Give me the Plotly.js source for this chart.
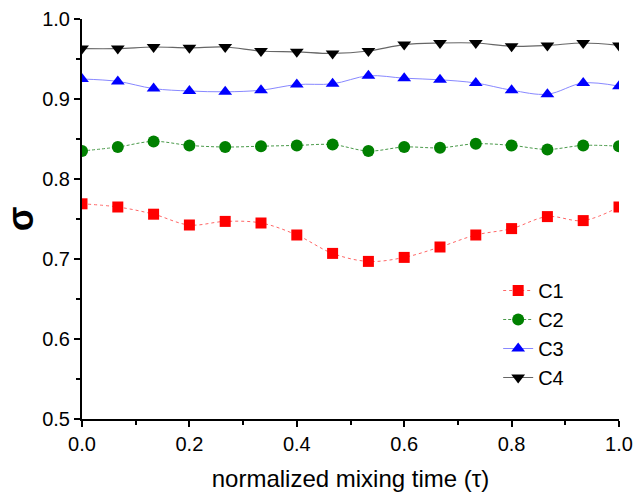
<!DOCTYPE html>
<html><head><meta charset="utf-8">
<script src="https://cdn.plot.ly/plotly-3.0.1.min.js"></script>
<style>html,body{margin:0;padding:0;background:#fff}#chart{width:633px;height:493px}</style>
</head><body><div id="chart"></div>
<script>
const tau = [0, 1/15, 2/15, 3/15, 4/15, 5/15, 6/15, 7/15, 8/15, 9/15, 10/15, 11/15, 12/15, 13/15, 14/15, 1];
const c1 = [0.769, 0.765, 0.756, 0.7425, 0.747, 0.745, 0.730, 0.707, 0.697, 0.702, 0.715, 0.730, 0.738, 0.753, 0.748, 0.765];
const c2 = [0.835, 0.840, 0.847, 0.842, 0.840, 0.841, 0.842, 0.843, 0.835, 0.840, 0.839, 0.844, 0.842, 0.837, 0.842, 0.841];
const c3 = [0.925, 0.922, 0.913, 0.910, 0.909, 0.911, 0.918, 0.919, 0.929, 0.926, 0.924, 0.920, 0.911, 0.906, 0.920, 0.916];
const c4 = [0.963, 0.963, 0.965, 0.964, 0.965, 0.960, 0.959, 0.957, 0.960, 0.968, 0.970, 0.970, 0.966, 0.967, 0.970, 0.967];
const names = ["C1", "C2", "C3", "C4"];

const font = "Liberation Sans, Arial, sans-serif";
const traces = [
  {x: tau, y: c1, name: names[0], mode: "lines+markers", line: {shape: "spline", color: "#ff6666", width: 1, dash: "dot"}, marker: {symbol: "square", size: 11, color: "#ff0000"}},
  {x: tau, y: c2, name: names[1], mode: "lines+markers", line: {shape: "spline", color: "#4a9a4a", width: 1, dash: "3px,2px"}, marker: {symbol: "circle", size: 12, color: "#008000"}},
  {x: tau, y: c3, name: names[2], mode: "lines+markers", line: {shape: "spline", color: "#8888ff", width: 1}, marker: {symbol: "triangle-up", size: 12, color: "#0000ff"}},
  {x: tau, y: c4, name: names[3], mode: "lines+markers", line: {shape: "spline", color: "#666666", width: 1.2}, marker: {symbol: "triangle-down", size: 12, color: "#000000"}}
];

const layout = {
  width: 633, height: 493,
  margin: {l: 82, r: 14, t: 19, b: 74},
  paper_bgcolor: "#fff", plot_bgcolor: "#fff",
  font: {family: font, size: 20, color: "#000"},
  xaxis: {
    range: [0, 1.0], tickvals: [0, 0.2, 0.4, 0.6, 0.8, 1.0], ticktext: ["0.0", "0.2", "0.4", "0.6", "0.8", "1.0"],
    showgrid: false, zeroline: false, showline: true, linecolor: "#000", linewidth: 2,
    ticks: "outside", ticklen: 6, tickwidth: 2, tickcolor: "#000",
    minor: {dtick: 0.1, tick0: 0, ticks: "outside", ticklen: 4, tickwidth: 2, tickcolor: "#000", showgrid: false},
    tickfont: {size: 20, family: font},
    title: {text: "normalized mixing time (τ)", font: {size: 24, family: font}, standoff: 16}
  },
  yaxis: {
    range: [0.5, 1.0], tickvals: [0.5, 0.6, 0.7, 0.8, 0.9, 1.0], ticktext: ["0.5", "0.6", "0.7", "0.8", "0.9", "1.0"],
    showgrid: false, zeroline: false, showline: true, linecolor: "#000", linewidth: 2,
    ticks: "outside", ticklen: 6, tickwidth: 2, tickcolor: "#000",
    minor: {dtick: 0.05, tick0: 0.5, ticks: "outside", ticklen: 4, tickwidth: 2, tickcolor: "#000", showgrid: false},
    tickfont: {size: 20, family: font},
    title: {text: "<b>σ</b>", font: {size: 36, family: font}, standoff: 10}
  },
  showlegend: true,
  legend: {x: 0.775, y: 0.37, xanchor: "left", yanchor: "top", bgcolor: "rgba(0,0,0,0)", font: {size: 20, family: font}, tracegroupgap: 0}
};
Plotly.newPlot("chart", traces, layout, {displayModeBar: false, staticPlot: true});
</script></body></html>
